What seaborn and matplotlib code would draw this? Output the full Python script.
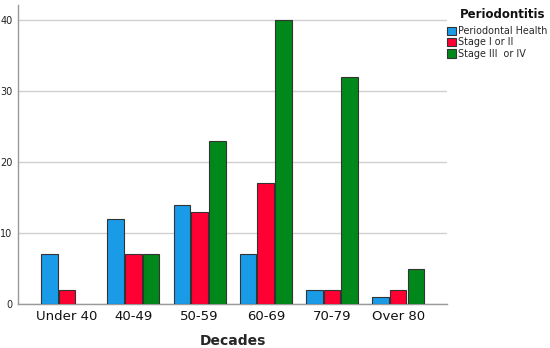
import matplotlib
matplotlib.use("Agg")
import matplotlib.pyplot as plt
import seaborn as sns
import pandas as pd

decades = ["Under 40", "40-49", "50-59", "60-69", "70-79", "Over 80"]
health = [7, 12, 14, 7, 2, 1]
stage12 = [2, 7, 13, 17, 2, 2]
stage34 = [0, 7, 23, 40, 32, 5]
groups = ["Periodontal Health", "Stage I or II", "Stage III  or IV"]
colors = ["#1a9be8", "#ff0033", "#00891a"]

rows = []
for g, vals in zip(groups, [health, stage12, stage34]):
    for d, v in zip(decades, vals):
        rows.append({"Decades": d, "Count": v, "Group": g})
df = pd.DataFrame(rows)

sns.set_style("white")
plt.rcParams["font.family"] = ["DejaVu Sans"]

fig = plt.figure(figsize=(5.5, 3.48), dpi=100)
ax = fig.add_axes([0.033, 0.126, 0.78, 0.86])
sns.barplot(data=df, x="Decades", y="Count", hue="Group", order=decades,
            hue_order=groups, palette=colors, saturation=1, width=0.8, gap=0.06,
            edgecolor="#333333", linewidth=0.8, ax=ax, zorder=3)
for p in ax.patches:
    if p.get_height() == 0:
        p.set_linewidth(0)

ax.set_ylim(0, 42.1)
ax.set_xlim(-0.74, 5.74)
ax.set_yticks([0, 10, 20, 30, 40])
ax.yaxis.grid(True, color="#d0d0d0", linewidth=1, zorder=0)
ax.set_axisbelow(True)
for s in ["top", "right"]:
    ax.spines[s].set_visible(False)
for s in ["left", "bottom"]:
    ax.spines[s].set_color("#999999")
    ax.spines[s].set_linewidth(1)
ax.tick_params(axis="y", labelsize=7, length=0, pad=4, colors="#222222")
ax.tick_params(axis="x", labelsize=9.5, length=0, pad=4, colors="#111111")
ax.set_ylabel("")
ax.set_xlabel("Decades", fontsize=10, fontweight="bold", labelpad=8)

handles, labels = ax.get_legend_handles_labels()
ax.get_legend().remove()
leg = fig.legend(handles, labels, loc="upper left",
                 bbox_to_anchor=(447 / 550, 1 - 26 / 348),
                 frameon=False, fontsize=6.9, handlelength=0.95, handleheight=0.95,
                 handletextpad=0.25, labelspacing=0.15, borderaxespad=0,
                 borderpad=0)
for h in leg.legend_handles:
    h.set_edgecolor("#333333")
    h.set_linewidth(0.8)
fig.text(460 / 550, 1 - 15 / 348, "Periodontitis", fontsize=8.5,
         fontweight="bold", ha="left", va="center", color="#111111")

fig.savefig("out.png", dpi=100)
